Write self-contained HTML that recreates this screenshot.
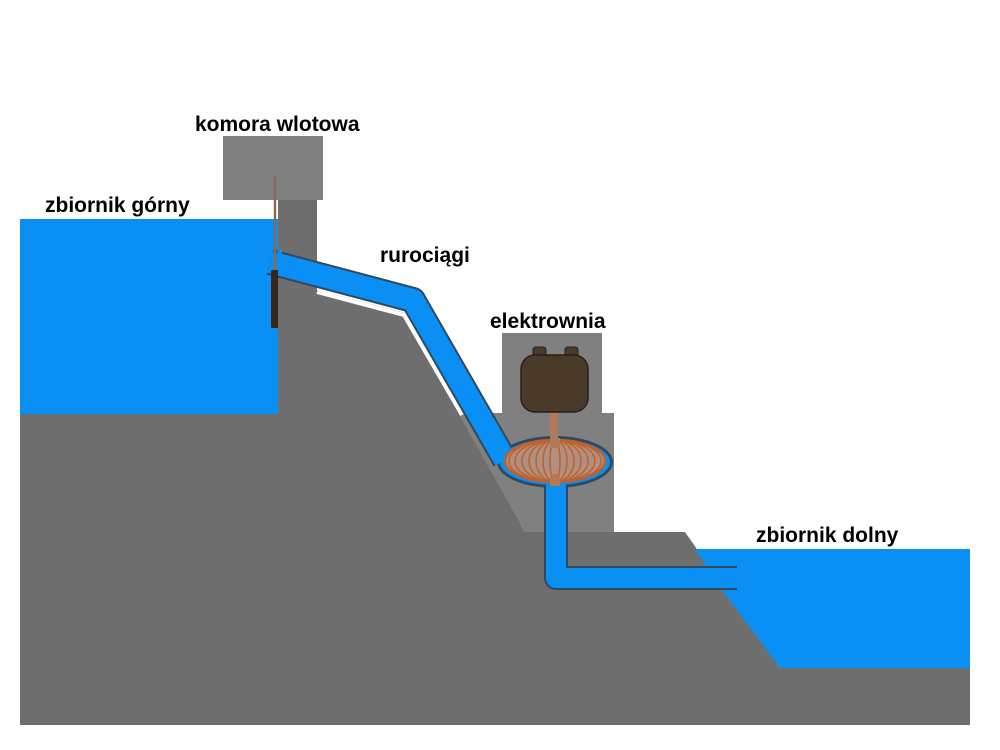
<!DOCTYPE html>
<html><head><meta charset="utf-8"><style>
body{margin:0;background:#fff;width:1000px;height:750px;overflow:hidden}
svg{display:block}
text{font-family:"Liberation Sans",sans-serif;font-weight:bold;font-size:21px;fill:#000}
</style></head><body>
<svg width="1000" height="750" viewBox="0 0 1000 750">
<polygon points="20,413 278,413 278,278 317,278 317,290 405,313 525,532 685,532 780,668 970,668 970,725 20,725" fill="#6e6e6e"/>
<rect x="278" y="200" width="39" height="92" fill="#6e6e6e"/>
<rect x="223" y="136" width="100" height="64" fill="#808080"/>
<rect x="502" y="333" width="100" height="82" fill="#808080"/>
<polygon points="458,413 614,413 614,532 525,532" fill="#808080"/>
<polyline points="317,292 404,315 462,415" fill="none" stroke="#fff" stroke-width="4"/>
<rect x="20" y="219" width="258" height="195" fill="#0a8ff5"/>
<polygon points="695,549 970,549 970,668 780,668 722,590" fill="#0a8ff5"/>
<polyline points="270,262 413,300 505,460" fill="none" stroke="#2f4a60" stroke-width="26" stroke-linejoin="round"/>
<polyline points="556,470 556,578 737,578" fill="none" stroke="#2f4a60" stroke-width="24" stroke-linejoin="round"/>
<ellipse cx="555" cy="462" rx="58" ry="26" fill="#2f4a60"/>
<polyline points="270,262 413,300 505,460" fill="none" stroke="#0a8ff5" stroke-width="22" stroke-linejoin="round"/>
<polyline points="556,470 556,578 740,578" fill="none" stroke="#0a8ff5" stroke-width="20" stroke-linejoin="round"/>
<ellipse cx="555" cy="462" rx="55" ry="23" fill="#0a8ff5"/>
<rect x="278" y="250" width="4" height="24" fill="#0a8ff5"/>
<line x1="275" y1="176" x2="275" y2="272" stroke="#8a6a55" stroke-width="2.5"/>
<rect x="271" y="270" width="7" height="58" fill="#3a2616"/>
<rect x="550" y="410" width="8" height="40" fill="#b07a5a"/>
<rect x="533" y="347" width="13" height="10" rx="3" fill="#4a3a2a" stroke="#2a1e14" stroke-width="1"/>
<rect x="565" y="347" width="13" height="10" rx="3" fill="#4a3a2a" stroke="#2a1e14" stroke-width="1"/>
<rect x="521" y="355" width="67" height="57" rx="14" fill="#4a3a2a" stroke="#2a1e14" stroke-width="1.5"/>
<g stroke="#c0602c" stroke-width="1.5" fill="none">
<ellipse cx="555" cy="461" rx="50" ry="21" fill="#b09080" stroke-width="2.5"/>
<ellipse cx="555" cy="461" rx="5" ry="21"/>
<ellipse cx="555" cy="461" rx="12" ry="21"/>
<ellipse cx="555" cy="461" rx="19" ry="21"/>
<ellipse cx="555" cy="461" rx="26" ry="21"/>
<ellipse cx="555" cy="461" rx="33" ry="21"/>
<ellipse cx="555" cy="461" rx="40" ry="21"/>
<ellipse cx="555" cy="461" rx="46" ry="21"/>
</g>
<rect x="550" y="438" width="10" height="10" fill="#b07a5a"/>
<rect x="550" y="474" width="10" height="12" fill="#b07a5a"/>
<text x="195" y="131">komora wlotowa</text>
<text x="45" y="212">zbiornik górny</text>
<text x="380" y="262">rurociągi</text>
<text x="490" y="328">elektrownia</text>
<text x="756" y="542">zbiornik dolny</text>
</svg>
</body></html>
